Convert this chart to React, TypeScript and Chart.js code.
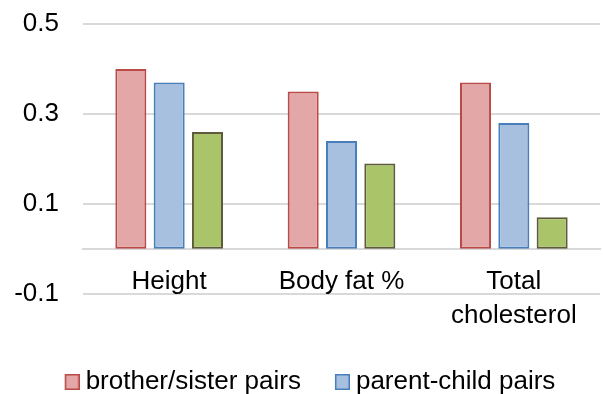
import React, { useEffect, useRef } from 'react';
import { Chart, registerables } from 'chart.js';

Chart.register(...registerables);

const categories: (string | string[])[] = ['Height', 'Body fat %', ['Total', 'cholesterol']];
const seriesNames = ['brother/sister pairs', 'parent-child pairs', 'husband-wife pairs'];
const brotherSister = [0.40, 0.35, 0.37];
const parentChild = [0.37, 0.24, 0.28];
const husbandWife = [0.26, 0.19, 0.07];
const yTicks = [-0.1, 0.1, 0.3, 0.5];

const fillColors = ['rgb(226,167,166)', 'rgb(167,192,224)', 'rgb(170,196,106)'];
const borderColors = ['rgb(185,74,71)', 'rgb(74,126,187)', 'rgb(94,90,60)'];

const FONT = "'Liberation Sans', Arial, sans-serif";

function makeSwatch(fill: string, border: string): HTMLCanvasElement {
  const c = document.createElement('canvas');
  c.width = 28;
  c.height = 16;
  const ctx = c.getContext('2d')!;
  ctx.fillStyle = fill;
  ctx.fillRect(13.75, 0.75, 13.5, 14.5);
  ctx.strokeStyle = border;
  ctx.lineWidth = 1.5;
  ctx.strokeRect(13.75, 0.75, 13.5, 14.5);
  return c;
}

export default function App() {
  const ref = useRef<HTMLCanvasElement | null>(null);

  useEffect(() => {
    if (!ref.current) return;
    const swatches = fillColors.map((f, i) => makeSwatch(f, borderColors[i]));
    const values = [brotherSister, parentChild, husbandWife];
    const chart = new Chart(ref.current, {
      type: 'bar',
      data: {
        labels: categories as any,
        datasets: values.map((v, i) => ({
          label: seriesNames[i],
          data: v,
          backgroundColor: fillColors[i],
          borderColor: borderColors[i],
          borderWidth: 2,
          borderSkipped: false,
          categoryPercentage: 0.667,
          barPercentage: 0.81,
        })),
      },
      options: {
        animation: false,
        responsive: false,
        events: [],
        layout: { padding: { left: 14, right: 3, top: 24, bottom: 0 } },
        scales: {
          x: {
            type: 'category',
            position: { y: 0 } as any,
            offset: true,
            grid: { display: false, drawTicks: false },
            border: { display: true, color: '#d9d9d9', width: 2 },
            ticks: {
              color: '#000',
              padding: 16,
              autoSkip: false,
              maxRotation: 0,
              font: { family: FONT, size: 26, lineHeight: 1.3 },
            },
          },
          y: {
            type: 'linear',
            min: -0.205,
            max: 0.5,
            afterBuildTicks: (s: any) => {
              s.ticks = yTicks.map((v) => ({ value: v }));
            },
            afterFit: (s: any) => {
              s.width = 69;
            },
            grid: {
              color: '#d9d9d9',
              lineWidth: 2,
              drawTicks: true,
              tickLength: 24,
              tickColor: 'rgba(0,0,0,0)',
            },
            border: { display: false },
            ticks: {
              color: '#000',
              padding: 0,
              font: { family: FONT, size: 26 },
              callback: (v: any) => Number(v).toFixed(1),
            },
          },
        },
        plugins: {
          tooltip: { enabled: false },
          legend: {
            display: true,
            position: 'bottom',
            labels: {
              color: '#000',
              font: { family: FONT, size: 26 },
              usePointStyle: true,
              pointStyleWidth: 14,
              padding: 28,
              generateLabels: (c: any) => {
                const items = Chart.defaults.plugins.legend.labels.generateLabels(c);
                return items.map((it: any, i: number) => ({ ...it, pointStyle: swatches[i] }));
              },
            },
          },
        },
      },
    });
    return () => chart.destroy();
  }, []);

  return (
    <div
      style={{
        position: 'fixed',
        left: 0,
        top: 0,
        width: 603,
        height: 394,
        overflow: 'hidden',
        background: '#fff',
      }}
    >
      <canvas ref={ref} width={603} height={459} style={{ display: 'block' }} />
    </div>
  );
}
